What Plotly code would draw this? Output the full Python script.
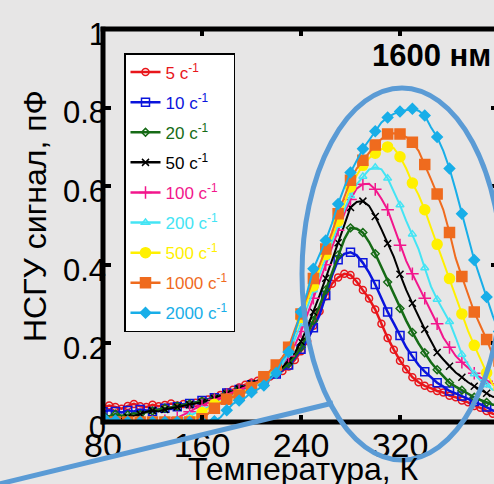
import plotly.graph_objects as go

# ---------------- data ----------------
temperature = [80, 85, 90, 95, 100, 105, 110, 115, 120, 125, 130, 135, 140, 145, 150, 155,
               160, 165, 170, 175, 180, 185, 190, 195, 200, 205, 210, 215, 220, 225, 230, 235,
               240, 245, 250, 255, 260, 265, 270, 275, 280, 285, 290, 295, 300, 305, 310, 315,
               320, 325, 330, 335, 340, 345, 350, 355, 360, 365, 370, 375, 380, 385, 390, 395,
               400]

s5 = [.036, .042, .038, .034, .041, .046, .040, .038, .044, .040, .043, .047, .042, .046, .044, .049,
      .052, .057, .063, .069, .076, .082, .088, .095, .100, .105, .110, .116, .121, .130, .141, .158,
      .180, .206, .245, .282, .320, .352, .368, .377, .374, .357, .336, .314, .286, .250, .214, .184,
      .156, .134, .114, .101, .092, .086, .079, .075, .067, .063, .055, .050, .041, .036, .028, .021,
      .018]
s10 = [.026, .030, .027, .024, .029, .027, .032, .029, .027, .032, .035, .033, .039, .045, .047, .050,
       .055, .058, .062, .068, .074, .078, .083, .089, .095, .100, .107, .114, .122, .132, .145, .162,
       .185, .208, .240, .272, .322, .372, .413, .428, .432, .424, .405, .380, .350, .315, .280, .251,
       .220, .190, .167, .145, .128, .113, .100, .090, .079, .073, .066, .060, .052, .045, .038, .029,
       .027]
s20 = [.018, .014, .020, .016, .018, .022, .019, .025, .028, .032, .035, .037, .040, .043, .046, .050,
       .053, .057, .062, .067, .073, .079, .085, .091, .097, .104, .111, .118, .125, .135, .148, .166,
       .190, .222, .258, .296, .336, .380, .425, .465, .494, .492, .482, .458, .428, .394, .356, .322,
       .289, .258, .228, .200, .176, .152, .133, .117, .100, .090, .081, .071, .063, .056, .050, .044,
       .042]
s50 = [.010, .006, .004, .009, .012, .016, .020, .026, .029, .027, .032, .035, .038, .041, .044, .048,
       .050, .055, .060, .066, .072, .078, .084, .090, .097, .104, .112, .120, .128, .140, .156, .176,
       .205, .240, .280, .322, .366, .411, .456, .503, .546, .560, .562, .550, .523, .490, .454, .420,
       .376, .336, .302, .267, .236, .206, .177, .159, .142, .126, .114, .101, .091, .082, .073, .064,
       .061]
s100 = [.000, .001, .000, .002, .000, .001, .000, .002, .001, .001, .003, .006, .011, .018, .026, .035,
        .042, .050, .057, .064, .070, .076, .082, .088, .095, .103, .112, .122, .133, .147, .168, .195,
        .230, .270, .315, .357, .400, .444, .488, .530, .566, .594, .605, .606, .592, .568, .540, .495,
        .450, .410, .377, .345, .315, .285, .250, .215, .190, .168, .152, .138, .124, .113, .104, .097,
        .094]
s200 = [.000, .000, .001, .000, .000, .001, .000, .000, .001, .000, .001, .002, .004, .009, .016, .023,
        .031, .038, .045, .052, .058, .065, .072, .080, .088, .097, .107, .118, .130, .148, .175, .210,
        .250, .292, .336, .378, .418, .458, .500, .540, .576, .605, .625, .642, .648, .643, .620, .585,
        .552, .512, .478, .440, .392, .345, .312, .283, .255, .215, .172, .146, .122, .106, .094, .082,
        .079]
s500 = [.000, .000, .000, .000, .000, .000, .000, .000, .000, .000, .000, .000, .000, .001, .004, .012,
        .024, .035, .045, .052, .058, .063, .070, .078, .088, .098, .110, .124, .139, .160, .190, .226,
        .266, .306, .346, .386, .426, .466, .511, .556, .598, .628, .653, .671, .684, .694, .700, .697,
        .675, .645, .608, .578, .540, .495, .452, .405, .365, .320, .275, .232, .195, .160, .125, .095,
        .085]
s1000 = [.000, .000, .000, .000, .000, .000, .000, .000, .000, .000, .000, .000, .000, .000, .000, .000,
         .008, .022, .035, .048, .058, .064, .068, .075, .088, .100, .115, .130, .145, .165, .190, .235,
         .275, .320, .365, .400, .440, .482, .530, .575, .615, .645, .666, .686, .705, .720, .733, .735,
         .733, .725, .712, .690, .655, .618, .580, .540, .482, .417, .370, .325, .280, .245, .210, .170,
         .155]
s2000 = [.012, .008, .004, .002, .000, .000, .000, .000, .000, .000, .000, .000, .000, .000, .000, .000,
         .000, .000, .002, .012, .030, .046, .055, .062, .076, .083, .093, .108, .125, .158, .178, .228,
         .280, .330, .390, .425, .462, .505, .555, .597, .635, .665, .695, .717, .740, .762, .775, .784,
         .790, .794, .797, .792, .780, .750, .725, .690, .645, .590, .530, .470, .412, .365, .318, .270,
         .230]

rates = ["5", "10", "20", "50", "100", "200", "500", "1000", "2000"]
series = [s5, s10, s20, s50, s100, s200, s500, s1000, s2000]
colors = ["#e8161b", "#0a14dc", "#166b16", "#000000", "#f2168c",
          "#44e4f4", "#fff000", "#ef6b1e", "#18aee8"]
symbols = ["circle-open", "square-open", "diamond-open", "x-thin-open", "cross-thin-open",
           "triangle-up-open", "circle", "square", "diamond"]
msizes = [7, 8, 6, 7, 9, 7, 10, 10, 8]
mstep = [1, 2, 2, 2, 2, 2, 2, 2, 2]
lwidth = [2.5, 2.5, 2.5, 2, 2, 2, 2, 2, 2]

for s in series:
    assert len(s) == len(temperature), len(s)

# ---------------- layout geometry ----------------
W, H = 494, 484
L, R, T, B = 103, 0, 29, 62
PW, PH = W - L - R, H - T - B
def px(x): return (x - L) / PW
def py(y): return (H - B - y) / PH

FONT = "Arial, Liberation Sans, sans-serif"
BLUE = "#5b9bd5"

fig = go.Figure()

for i, (r, s) in enumerate(zip(rates, series)):
    c = colors[i]
    g = "g" + r
    mline = dict(color=c, width=1.5)
    fig.add_trace(go.Scatter(
        x=[None], y=[None], mode="lines+markers", legendgroup=g,
        name='<span style="color:%s">%s с<sup>-1</sup></span>' % (c, r),
        line=dict(color=c, width=2.5),
        marker=dict(symbol=symbols[i], size=msizes[i], color=c, line=mline)))
    fig.add_trace(go.Scatter(
        x=temperature, y=s, mode="lines", legendgroup=g, showlegend=False,
        line=dict(color=c, width=lwidth[i]), hoverinfo="skip"))
    k = mstep[i]
    fig.add_trace(go.Scatter(
        x=temperature[::k], y=s[::k], mode="markers", legendgroup=g, showlegend=False,
        marker=dict(symbol=symbols[i], size=msizes[i], color=c, line=mline), hoverinfo="skip"))

fig.add_trace(go.Scatter(x=[None], y=[None], yaxis="y2", showlegend=False))

shapes = [
    dict(type="line", xref="paper", yref="paper", x0=0, x1=0, y0=-0.006, y1=1.006,
         line=dict(color="black", width=5)),
    dict(type="line", xref="paper", yref="paper", x0=-0.006, x1=1.02, y0=1, y1=1,
         line=dict(color="black", width=5)),
    dict(type="line", xref="paper", yref="paper", x0=-0.006, x1=1.02, y0=0, y1=0,
         line=dict(color="black", width=5)),
    dict(type="circle", xref="paper", yref="paper", x0=px(302), x1=px(502),
         y0=py(460), y1=py(88), line=dict(color=BLUE, width=5)),
    dict(type="line", xref="paper", yref="paper", x0=px(-5), y0=py(485), x1=px(333), y1=py(403),
         line=dict(color=BLUE, width=5)),
]

annotations = [
    dict(text="1600 нм", xref="paper", yref="paper", x=px(370), y=py(55),
         xanchor="left", yanchor="middle", showarrow=False,
         font=dict(family=FONT, size=31, color="black", weight="bold")),
    dict(text="Температура, К", xref="paper", yref="paper", x=px(303), y=py(469),
         xanchor="center", yanchor="middle", showarrow=False,
         font=dict(family=FONT, size=32, color="black")),
    dict(text="НСГУ сигнал, пФ", xref="paper", yref="paper", x=px(35), y=py(216),
         xanchor="center", yanchor="middle", showarrow=False, textangle=-90,
         font=dict(family=FONT, size=32, color="black")),
]

fig.update_layout(
    width=W, height=H,
    margin=dict(l=L, r=R, t=T, b=B, pad=0, autoexpand=False),
    paper_bgcolor="#e7e6e6", plot_bgcolor="#e7e6e6",
    font=dict(family=FONT, color="black"),
    showlegend=True,
    legend=dict(x=px(124), y=py(53), xanchor="left", yanchor="top",
                bgcolor="white", bordercolor="black", borderwidth=1.5,
                font=dict(family=FONT, size=17), tracegroupgap=5,
                traceorder="grouped"),
    xaxis=dict(range=[80, 80 + PW / 1.2375], tickvals=[80, 160, 240, 320],
               ticks="inside", ticklen=7, tickwidth=4, tickcolor="black",
               mirror="ticks", showline=False, showgrid=False, zeroline=False,
               automargin=False, tickfont=dict(family=FONT, size=34)),
    yaxis=dict(range=[0, 1], tickvals=[0, 0.2, 0.4, 0.6, 0.8, 1],
               ticktext=["0", "0.2", "0.4", "0.6", "0.8", "1"],
               ticks="inside", ticklen=8, tickwidth=4, tickcolor="black",
               showline=False, showgrid=False, zeroline=False, automargin=False,
               tickfont=dict(family=FONT, size=31), ticklabelshift=5,
               ticklabelstandoff=-4),
    yaxis2=dict(range=[0, 1], overlaying="y", side="right",
                tickvals=[0.2, 0.4, 0.6, 0.8], ticks="inside", ticklen=3, tickwidth=4,
                tickcolor="black", showticklabels=False, showgrid=False,
                zeroline=False, showline=False, automargin=False),
    shapes=shapes,
    annotations=annotations,
)

fig.write_html("out.html", config={"displayModeBar": False},
               post_script="document.body.style.margin='0';document.body.style.padding='0';")
